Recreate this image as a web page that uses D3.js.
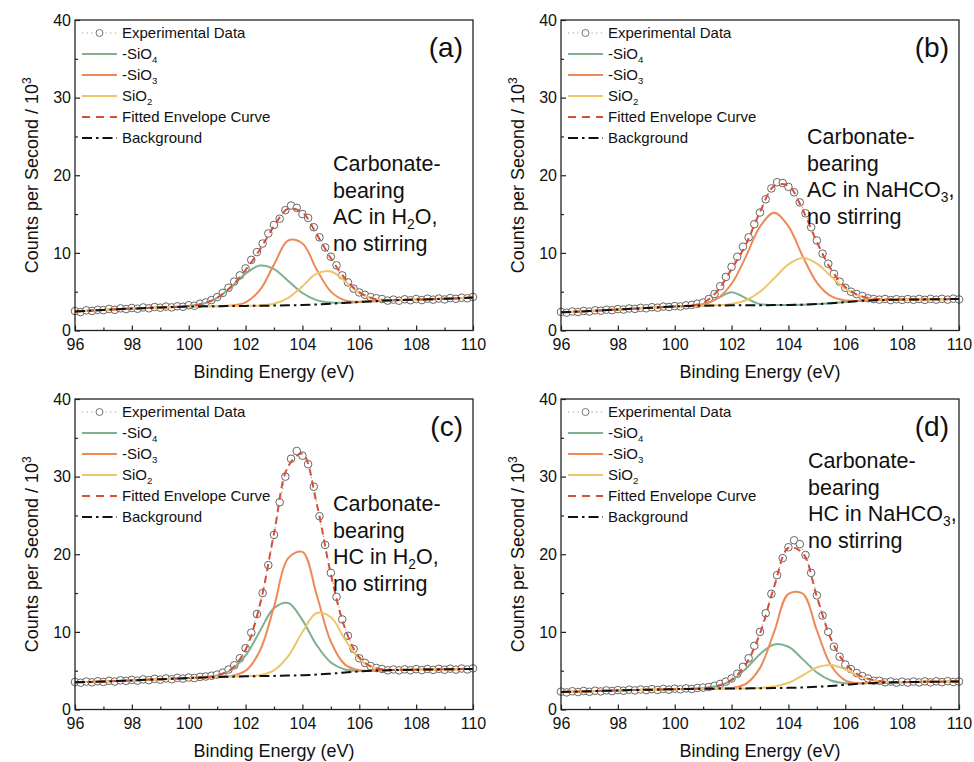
<!DOCTYPE html>
<html>
<head>
<meta charset="utf-8">
<script src="https://cdn.jsdelivr.net/npm/d3@7"></script>
<style>
body { margin: 0; background: #fff; }
text { font-family: "Liberation Sans", Arial, sans-serif; fill: #111; }
</style>
</head>
<body>
<div id="chart"></div>
<script>
var width = 974, height = 762;

// energy grid of the fitted curves (eV)
var grid = [96, 96.5, 97, 97.5, 98, 98.5, 99, 99.5, 100, 100.5, 101, 101.5, 102, 102.5, 103,
    103.5, 104, 104.5, 105, 105.5, 106, 106.5, 107, 107.5, 108, 108.5, 109, 109.5, 110];
// measured points every 0.2 eV
var expEnergy = d3.range(0, 71).map(function(i) { return +(96 + i * 0.2).toFixed(1); });

var xTicks = [96, 98, 100, 102, 104, 106, 108, 110];
var xMinor = [97, 99, 101, 103, 105, 107, 109];
var yTicks = [0, 10, 20, 30, 40];
var yMinor = [5, 15, 25, 35];

// (a) AC in H2O
var bgA = [2.45, 2.55, 2.65, 2.74, 2.82, 2.9, 2.97, 3.03, 3.08, 3.11, 3.13, 3.15, 3.17, 3.19, 3.21, 3.24, 3.28, 3.35, 3.45, 3.56, 3.67, 3.78, 3.87, 3.93, 3.98, 4.03, 4.08, 4.15, 4.25];
var sio4A = [0, 0, 0, 0, 0, 0, 0, 0.01, 0.08, 0.34, 1.07, 2.46, 4.16, 5.17, 4.71, 3.15, 1.55, 0.56, 0.15, 0.03, 0, 0, 0, 0, 0, 0, 0, 0, 0];
var sio3A = [0, 0, 0, 0, 0, 0, 0, 0, 0, 0, 0, 0.06, 0.46, 2.0, 5.28, 8.35, 7.93, 4.52, 1.56, 0.32, 0.04, 0, 0, 0, 0, 0, 0, 0, 0];
var sio2A = [0, 0, 0, 0, 0, 0, 0, 0, 0, 0, 0, 0, 0, 0.04, 0.24, 0.96, 2.43, 3.97, 4.15, 2.78, 1.2, 0.33, 0.06, 0.01, 0, 0, 0, 0, 0];
var expA = [2.5, 2.38, 2.6, 2.52, 2.66, 2.62, 2.78, 2.66, 2.85, 2.76, 2.9, 2.8, 2.97, 2.86, 3.02, 2.94, 3.08, 2.98, 3.12, 3.06,
    3.25, 3.18, 3.45, 3.62, 3.92, 4.3, 4.85, 5.5, 6.3, 7.1, 8.0, 9.1, 10.1, 11.2, 12.5, 13.6, 14.4, 15.5, 16.1, 15.8,
    15.0, 14.5, 13.3, 12.0, 10.7, 9.5, 8.4, 7.1, 6.2, 5.4, 4.9, 4.6, 4.3, 4.15, 4.05, 3.85, 3.98, 3.84, 4.02, 3.9,
    4.05, 3.92, 4.1, 3.97, 4.12, 4.0, 4.18, 4.08, 4.22, 4.15, 4.32];

// (b) AC in NaHCO3
var bgB = [2.35, 2.42, 2.5, 2.6, 2.7, 2.8, 2.9, 3.0, 3.1, 3.16, 3.2, 3.22, 3.24, 3.25, 3.26, 3.27, 3.29, 3.33, 3.4, 3.52, 3.66, 3.8, 3.9, 3.95, 3.98, 4.0, 4.02, 4.04, 4.06];
var sio4B = [0, 0, 0, 0, 0, 0, 0, 0, 0, 0.01, 0.14, 0.92, 1.7, 0.92, 0.14, 0.01, 0, 0, 0, 0, 0, 0, 0, 0, 0, 0, 0, 0, 0];
var sio3B = [0, 0, 0, 0, 0, 0, 0, 0, 0, 0.04, 0.21, 0.9, 2.78, 6.24, 10.13, 11.9, 10.13, 6.24, 2.78, 0.9, 0.21, 0.04, 0, 0, 0, 0, 0, 0, 0];
var sio2B = [0, 0, 0, 0, 0, 0, 0, 0, 0, 0, 0, 0.04, 0.19, 0.65, 1.73, 3.45, 5.22, 6.0, 5.22, 3.45, 1.73, 0.65, 0.19, 0.04, 0, 0, 0, 0, 0];
var expB = [2.4, 2.3, 2.45, 2.38, 2.52, 2.44, 2.6, 2.55, 2.68, 2.62, 2.76, 2.7, 2.84, 2.78, 2.92, 2.86, 3.0, 2.94, 3.08, 3.02,
    3.15, 3.1, 3.24, 3.3, 3.45, 3.6, 4.05, 4.7, 5.7, 6.9, 8.2, 9.5, 10.8, 12.0, 13.7, 15.2, 16.9, 18.3, 19.1, 19.0,
    18.5, 17.8, 16.5, 15.1, 13.3, 11.6, 9.9, 8.6, 7.3, 6.3, 5.5, 5.0, 4.7, 4.45, 4.15, 4.05, 3.98, 4.06, 3.92, 4.03,
    3.94, 4.05, 3.96, 4.06, 3.95, 4.08, 3.97, 4.08, 3.98, 4.1, 4.0];

// (c) HC in H2O
var bgC = [3.5, 3.55, 3.6, 3.68, 3.75, 3.83, 3.9, 3.98, 4.05, 4.12, 4.18, 4.23, 4.27, 4.3, 4.33, 4.37, 4.42, 4.5, 4.62, 4.76, 4.9, 5.0, 5.06, 5.1, 5.13, 5.15, 5.18, 5.2, 5.22];
var sio4C = [0, 0, 0, 0, 0, 0, 0, 0, 0, 0.03, 0.21, 0.89, 2.69, 5.76, 8.73, 9.35, 7.09, 3.8, 1.44, 0.39, 0.07, 0.01, 0, 0, 0, 0, 0, 0, 0];
var sio3C = [0, 0, 0, 0, 0, 0, 0, 0, 0, 0, 0.01, 0.1, 0.72, 3.23, 8.9, 15.12, 15.88, 10.29, 4.11, 1.02, 0.15, 0.01, 0, 0, 0, 0, 0, 0, 0];
var sio2C = [0, 0, 0, 0, 0, 0, 0, 0, 0, 0, 0, 0, 0.02, 0.13, 0.72, 2.5, 5.56, 7.94, 7.26, 4.26, 1.6, 0.39, 0.06, 0.01, 0, 0, 0, 0, 0];
var expC = [3.55, 3.45, 3.6, 3.5, 3.64, 3.55, 3.7, 3.6, 3.76, 3.68, 3.82, 3.72, 3.88, 3.78, 3.95, 3.84, 4.0, 3.9, 4.08, 3.98,
    4.12, 4.05, 4.2, 4.25, 4.35, 4.5, 4.75, 5.15, 5.7, 6.6, 7.9, 9.9, 12.3, 15.0, 18.6, 22.5, 26.7, 30.0, 32.3, 33.3,
    32.7, 31.6, 28.7, 24.9, 21.2, 17.6, 14.5, 11.6, 9.5, 7.8, 6.6, 6.0, 5.6, 5.35, 5.22, 5.05, 5.16, 5.04, 5.17, 5.06,
    5.2, 5.08, 5.22, 5.1, 5.24, 5.12, 5.26, 5.14, 5.28, 5.16, 5.3];

// (d) HC in NaHCO3
var bgD = [2.25, 2.3, 2.35, 2.4, 2.45, 2.5, 2.54, 2.58, 2.62, 2.65, 2.67, 2.69, 2.7, 2.72, 2.74, 2.76, 2.79, 2.84, 2.92, 3.04, 3.18, 3.32, 3.42, 3.48, 3.52, 3.55, 3.57, 3.59, 3.61];
var sio4D = [0, 0, 0, 0, 0, 0, 0, 0, 0, 0.01, 0.07, 0.33, 1.06, 2.52, 4.39, 5.62, 5.29, 3.65, 1.85, 0.69, 0.19, 0.04, 0.01, 0, 0, 0, 0, 0, 0];
var sio3D = [0, 0, 0, 0, 0, 0, 0, 0, 0, 0, 0, 0.01, 0.07, 0.57, 2.62, 7.26, 12.1, 12.1, 7.26, 2.62, 0.57, 0.07, 0.01, 0, 0, 0, 0, 0, 0];
var sio2D = [0, 0, 0, 0, 0, 0, 0, 0, 0, 0, 0, 0, 0, 0, 0.04, 0.19, 0.66, 1.56, 2.5, 2.7, 1.98, 0.98, 0.33, 0.07, 0.01, 0, 0, 0, 0];
var expD = [2.3, 2.2, 2.35, 2.25, 2.38, 2.28, 2.42, 2.33, 2.46, 2.38, 2.5, 2.42, 2.55, 2.46, 2.58, 2.49, 2.62, 2.52, 2.65, 2.56,
    2.68, 2.6, 2.72, 2.64, 2.78, 2.82, 2.9, 3.05, 3.3, 3.6, 4.0, 4.6, 5.5, 6.6, 8.2, 10.0, 12.4, 14.9, 17.3, 19.5,
    20.9, 21.8, 21.3, 19.9, 17.6, 14.7, 12.1, 10.0, 8.1, 6.8, 5.8, 5.2, 4.7, 4.3, 4.0, 3.7, 3.7, 3.5, 3.6, 3.46,
    3.58, 3.47, 3.6, 3.49, 3.62, 3.5, 3.63, 3.52, 3.65, 3.54, 3.6];

var legendNames = [["Experimental Data"], ["-SiO", {sub: "4"}], ["-SiO", {sub: "3"}], ["SiO", {sub: "2"}],
    ["Fitted Envelope Curve"], ["Background"]];
var noteA = [["Carbonate-"], ["bearing"], ["AC in H", {sub: "2"}, "O,"], ["no stirring"]];
var noteB = [["Carbonate-"], ["bearing"], ["AC in NaHCO", {sub: "3"}, ","], ["no stirring"]];
var noteC = [["Carbonate-"], ["bearing"], ["HC in H", {sub: "2"}, "O,"], ["no stirring"]];
var noteD = [["Carbonate-"], ["bearing"], ["HC in NaHCO", {sub: "3"}, ","], ["no stirring"]];

var panels = [
    {label: "(a)", bg: bgA, sio4: sio4A, sio3: sio3A, sio2: sio2A, exp: expA, note: noteA},
    {label: "(b)", bg: bgB, sio4: sio4B, sio3: sio3B, sio2: sio2B, exp: expB, note: noteB},
    {label: "(c)", bg: bgC, sio4: sio4C, sio3: sio3C, sio2: sio2C, exp: expC, note: noteC},
    {label: "(d)", bg: bgD, sio4: sio4D, sio3: sio3D, sio2: sio2D, exp: expD, note: noteD}
];

var layout = [[75, 20], [561, 20], [75, 399], [561, 399]];
var notePos = [[258, 151], [246, 124], [258, 112], [247, 69]];
var plotW = 398, plotH = 310.5;

var colors = {sio4: "#7fb08f", sio3: "#ee8a57", sio2: "#efc56c", env: "#d5503b", exp: "#666"};

var svg = d3.select("#chart").append("svg")
    .attr("width", width)
    .attr("height", height);

// text with subscripts: plain strings, or {sub: "..."}
function richText(sel, parts, size) {
    var shift = 0;
    parts.forEach(function(p) {
        var t = sel.append("tspan");
        if (typeof p === "string") {
            t.text(p).attr("dy", -shift);
            shift = 0;
        } else {
            var d = size * 0.22;
            t.text(p.sub).attr("dy", d).style("font-size", (size * 0.64) + "px");
            shift = d;
        }
    });
}

var x = d3.scaleLinear().domain([96, 110]).range([0, plotW]);
var y = d3.scaleLinear().domain([0, 40]).range([plotH, 0]);

panels.forEach(function(p, k) {
    var g = svg.append("g").attr("transform", "translate(" + layout[k][0] + "," + layout[k][1] + ")");

    var fitLine = d3.line()
        .x(function(d, i) { return x(grid[i]); })
        .y(function(d) { return y(d); })
        .curve(d3.curveCatmullRom);

    var envelope = grid.map(function(e, i) { return p.bg[i] + p.sio4[i] + p.sio3[i] + p.sio2[i]; });

    // experimental points
    var expLine = d3.line()
        .x(function(d, i) { return x(expEnergy[i]); })
        .y(function(d) { return y(d); });
    g.append("path").attr("d", expLine(p.exp))
        .attr("fill", "none").attr("stroke", "#9a9a9a").attr("stroke-width", 1)
        .attr("stroke-dasharray", "1.2,2.8");
    g.selectAll("circle.exp").data(p.exp).enter().append("circle")
        .attr("class", "exp")
        .attr("cx", function(d, i) { return x(expEnergy[i]); })
        .attr("cy", function(d) { return y(d); })
        .attr("r", 3.8)
        .attr("fill", "#fff")
        .attr("stroke", colors.exp)
        .attr("stroke-width", 1);

    ["sio4", "sio3", "sio2"].forEach(function(key) {
        var vals = p[key].map(function(v, i) { return p.bg[i] + v; });
        g.append("path").attr("d", fitLine(vals))
            .attr("fill", "none").attr("stroke", colors[key]).attr("stroke-width", 2);
    });

    g.append("path").attr("d", fitLine(envelope))
        .attr("fill", "none").attr("stroke", colors.env).attr("stroke-width", 2)
        .attr("stroke-dasharray", "7,5");

    g.append("path").attr("d", fitLine(p.bg))
        .attr("fill", "none").attr("stroke", "#111").attr("stroke-width", 2)
        .attr("stroke-dasharray", "10,4,2.5,4");

    // axes
    g.append("g").attr("transform", "translate(0," + plotH + ")")
        .call(d3.axisBottom(x).tickValues(xTicks).tickSize(-5).tickPadding(8.6));
    g.append("g").attr("transform", "translate(0," + plotH + ")")
        .call(d3.axisBottom(x).tickValues(xMinor).tickSize(-3).tickFormat(""));
    g.append("g")
        .call(d3.axisLeft(y).tickValues(yTicks).tickSize(-5).tickPadding(4));
    g.append("g")
        .call(d3.axisLeft(y).tickValues(yMinor).tickSize(-3).tickFormat(""));
    g.selectAll(".domain").remove();
    g.selectAll(".tick line").attr("stroke", "#222").attr("stroke-width", 1.2);
    g.selectAll(".tick text").style("font-size", "16px")
        .style("font-family", "'Liberation Sans', Arial, sans-serif").attr("fill", "#111");

    g.append("rect").attr("width", plotW).attr("height", plotH)
        .attr("fill", "none").attr("stroke", "#222").attr("stroke-width", 1.3);

    g.append("text").attr("x", plotW / 2).attr("y", plotH + 47)
        .attr("text-anchor", "middle").style("font-size", "18px")
        .text("Binding Energy (eV)");

    var yt = g.append("text")
        .attr("transform", "translate(-37," + (plotH / 2) + ") rotate(-90)")
        .attr("text-anchor", "middle").style("font-size", "18px");
    yt.append("tspan").text("Counts per Second / 10");
    yt.append("tspan").attr("dy", -7).style("font-size", "12px").text("3");

    // legend
    var leg = g.append("g");
    legendNames.forEach(function(name, i) {
        var ly = 13 + i * 21;
        if (i === 0) {
            leg.append("line").attr("x1", 7).attr("x2", 42).attr("y1", ly).attr("y2", ly)
                .attr("stroke", "#9a9a9a").attr("stroke-width", 1.2).attr("stroke-dasharray", "1.2,3.5");
            leg.append("circle").attr("cx", 24.5).attr("cy", ly).attr("r", 3.5)
                .attr("fill", "#fff").attr("stroke", colors.exp).attr("stroke-width", 0.9);
        } else {
            var st = [null, colors.sio4, colors.sio3, colors.sio2, colors.env, "#111"][i];
            var dash = [null, null, null, null, "8,6", "10,4,2.5,4"][i];
            leg.append("line").attr("x1", 7).attr("x2", 42).attr("y1", ly).attr("y2", ly)
                .attr("stroke", st).attr("stroke-width", 2).attr("stroke-dasharray", dash);
        }
        var t = leg.append("text").attr("x", 47).attr("y", ly + 5.3).style("font-size", "15px");
        richText(t, name, 15);
    });

    g.append("text").attr("x", plotW - 10).attr("y", 37)
        .attr("text-anchor", "end").style("font-size", "28px").text(p.label);

    p.note.forEach(function(line, j) {
        var t = g.append("text").attr("x", notePos[k][0]).attr("y", notePos[k][1] + j * 26.5)
            .style("font-size", "21.5px");
        richText(t, line, 21.5);
    });
});
</script>
</body>
</html>
